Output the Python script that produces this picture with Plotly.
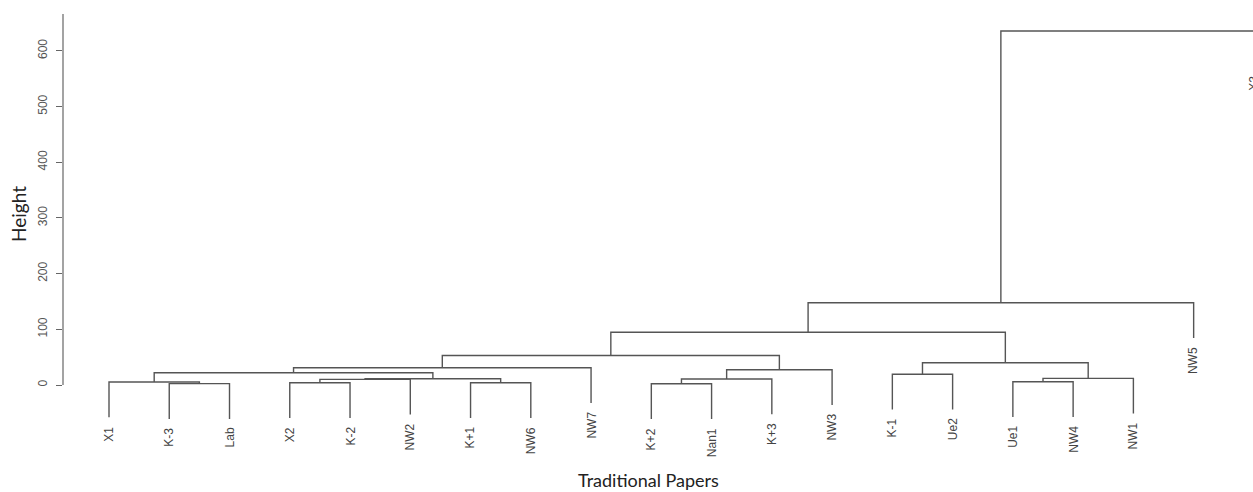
import plotly.graph_objects as go

# ---------------- data ----------------
leaf_labels = ["X1", "K-3", "Lab", "X2", "K-2", "NW2", "K+1", "NW6", "NW7",
               "K+2", "Nan1", "K+3", "NW3", "K-1", "Ue2", "Ue1", "NW4", "NW1",
               "NW5", "X3"]

# hclust-style merges: negative = leaf (1-based position in leaf_labels),
# positive = result of an earlier merge step (1-based)
merge_left = [-10, -2, -4, -7, -1, -16, 3, 1, 7, 6, -14, 5, 8, 12, 11, 14, 16, 17, 18]
merge_right = [-11, -3, -5, -8, 2, -17, -6, -12, 4, -18, -15, 9, -13, -9, 10, 13, 15, -19, -20]
merge_height = [2.2, 2.5, 4.1, 4.0, 5.4, 5.9, 10.2, 10.8, 11.3, 12.0, 19.2,
                 22.0, 27.5, 31.0, 40.0, 53.0, 94.6, 147.8, 635.5]

y_ticks = [0, 100, 200, 300, 400, 500, 600]

# ---------------- layout geometry ----------------
W, H = 1253, 492
ML, MR, MT, MB = 63, 0, 14, 70
X_RANGE = [0.2367, 19.985]
Y_RANGE = [-66.4, 666.1]

LINE_COLOR = "#555555"

# ---------------- build dendrogram segments ----------------
hang = 0.1 * (max(merge_height) - min(merge_height))
node_pos = {}
leaf_bottom = {}
xs, ys = [], []
for i, (a, b, h) in enumerate(zip(merge_left, merge_right, merge_height), start=1):
    pts = []
    for ref in (a, b):
        if ref < 0:
            x = float(-ref)
            y = h - hang
            leaf_bottom[-ref] = y
        else:
            x, y = node_pos[ref]
        pts.append((x, y))
    (xa, ya), (xb, yb) = pts
    xs += [xa, xa, xb, xb, None]
    ys += [ya, h, h, yb, None]
    node_pos[i] = ((xa + xb) / 2.0, h)

fig = go.Figure()
fig.add_trace(go.Scatter(x=xs, y=ys, mode="lines",
                         line=dict(color=LINE_COLOR, width=1.4),
                         hoverinfo="skip", showlegend=False))

def xpaper(v):
    return (v - X_RANGE[0]) / (X_RANGE[1] - X_RANGE[0])

annotations = []
for idx, lab in enumerate(leaf_labels, start=1):
    annotations.append(dict(
        x=xpaper(idx), xref="paper", y=leaf_bottom[idx], yref="y",
        text=lab, showarrow=False, textangle=-90,
        xanchor="center", yanchor="top", yshift=-7,
        font=dict(family="Liberation Sans, Arial, sans-serif", size=12, color="#444444")))

annotations.append(dict(
    x=(18 - ML) / (W - ML - MR), xref="paper",
    y=(H - MB - 214) / (H - MT - MB), yref="paper",
    text="Height", showarrow=False, textangle=-90,
    xanchor="center", yanchor="middle",
    font=dict(family="Lato, Open Sans, sans-serif", size=19, color="#222222")))
annotations.append(dict(
    x=(648 - ML) / (W - ML - MR), xref="paper",
    y=(H - MB - 480) / (H - MT - MB), yref="paper",
    text="Traditional Papers", showarrow=False,
    xanchor="center", yanchor="middle",
    font=dict(family="Lato, Open Sans, sans-serif", size=18, color="#222222")))

fig.update_layout(
    width=W, height=H,
    margin=dict(l=ML, r=MR, t=MT, b=MB, pad=0),
    paper_bgcolor="white", plot_bgcolor="white",
    showlegend=False,
    annotations=annotations,
    shapes=[dict(type="line", xref="paper", yref="y", x0=0, x1=0,
                 y0=0, y1=Y_RANGE[1], line=dict(color="#666666", width=1.2))],
    xaxis=dict(range=X_RANGE, visible=False, fixedrange=True),
    yaxis=dict(range=Y_RANGE, tickvals=y_ticks, ticktext=[str(v) for v in y_ticks],
               tickangle=-90, ticks="outside", ticklen=6, tickwidth=1.2,
               tickcolor="#666666", showgrid=False, zeroline=False, showline=False,
               ticklabelstandoff=4,
               tickfont=dict(family="Liberation Sans, Arial, sans-serif", size=12, color="#555555"),
               fixedrange=True),
)

fig.write_html("out.html", include_plotlyjs=True,
               config={"displayModeBar": False},
               post_script="document.body.style.margin='0';document.body.style.overflow='hidden';")
